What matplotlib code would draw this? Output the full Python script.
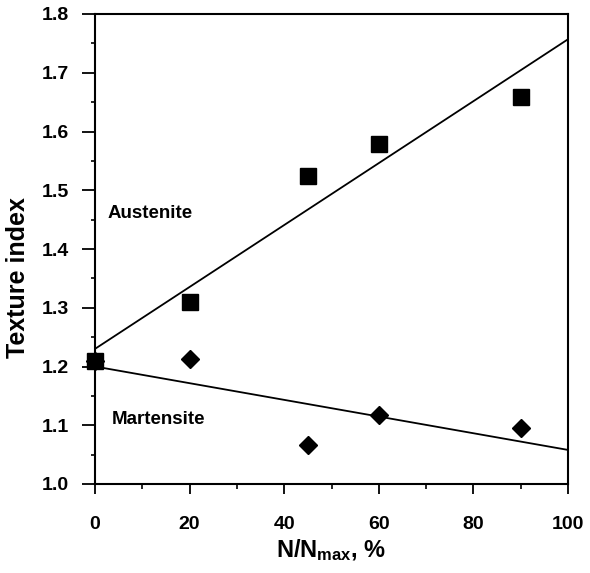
import matplotlib
matplotlib.use("Agg")
import matplotlib.pyplot as plt
from matplotlib.ticker import MultipleLocator

plt.rcParams['font.family'] = ['Liberation Sans', 'DejaVu Sans']
plt.rcParams['font.weight'] = 'bold'
plt.rcParams['mathtext.fontset'] = 'custom'
plt.rcParams['mathtext.rm'] = 'Liberation Sans:bold'
plt.rcParams['mathtext.it'] = 'Liberation Sans:bold'
plt.rcParams['mathtext.bf'] = 'Liberation Sans:bold'

# Data
aus_x = [0, 20, 45, 60, 90]
aus_y = [1.209, 1.310, 1.525, 1.578, 1.659]
mar_x = [0, 20, 45, 60, 90]
mar_y = [1.209, 1.213, 1.067, 1.118, 1.095]
aus_fit_x = [0, 100]
aus_fit_y = [1.230, 1.757]
mar_fit_x = [0, 100]
mar_fit_y = [1.200, 1.058]
xticks = [0, 20, 40, 60, 80, 100]
yticks = [1.0, 1.1, 1.2, 1.3, 1.4, 1.5, 1.6, 1.7, 1.8]

fig = plt.figure(figsize=(5.9, 5.73), dpi=100)
ax = fig.add_axes([95/590, 1 - 484/573, (568-95)/590, (484-14)/573])

ax.plot(aus_fit_x, aus_fit_y, color='black', lw=1.3, zorder=2)
ax.plot(mar_fit_x, mar_fit_y, color='black', lw=1.3, zorder=2)
ax.plot(mar_x, mar_y, linestyle='none', marker='D', markersize=9, color='black', zorder=3, clip_on=False)
ax.plot(aus_x, aus_y, linestyle='none', marker='s', markersize=11.5, color='black', zorder=4, clip_on=False)

ax.set_xlim(0, 100)
ax.set_ylim(1.0, 1.8)
ax.set_xticks(xticks)
ax.set_yticks(yticks)
ax.set_xticklabels([str(v) for v in xticks])
ax.set_yticklabels([f"{v:.1f}" for v in yticks])
ax.xaxis.set_minor_locator(MultipleLocator(10))
ax.yaxis.set_minor_locator(MultipleLocator(0.05))
ax.tick_params(axis='both', which='major', labelsize=14, width=1.3, direction='out')
ax.tick_params(axis='x', which='major', length=7.2, pad=16)
ax.tick_params(axis='y', which='major', length=9.2, pad=9.6)
ax.tick_params(axis='x', which='minor', length=3.6, width=1.2)
ax.tick_params(axis='y', which='minor', length=3.2, width=1.2)
for s in ax.spines.values():
    s.set_linewidth(1.5)

ax.set_xlabel('N/N$_{max}$, %', fontsize=17, fontweight='bold', labelpad=3)
ax.set_ylabel('Texture index', fontsize=18, fontweight='bold')
ax.yaxis.set_label_coords(-0.137, 0.44)

ax.text(2.7, 1.460, 'Austenite', fontsize=13.5, fontweight='bold', va='center', ha='left')
ax.text(3.6, 1.110, 'Martensite', fontsize=13.5, fontweight='bold', va='center', ha='left')

fig.savefig('out.png', dpi=100)
